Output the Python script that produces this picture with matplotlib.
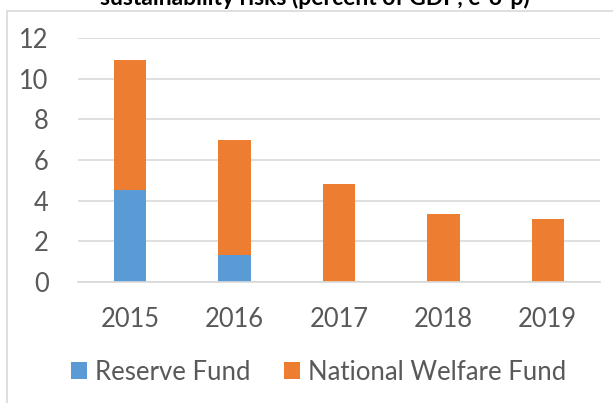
import matplotlib
matplotlib.use("Agg")
import matplotlib.pyplot as plt
from matplotlib.patches import Rectangle
import numpy as np

plt.rcParams['font.family'] = ['Lato', 'DejaVu Sans']

# data (percent of GDP, end of period)
years = ['2015', '2016', '2017', '2018', '2019']
reserve_fund = [4.5, 1.33, 0.0, 0.0, 0.0]
welfare_fund = [6.45, 5.67, 4.81, 3.33, 3.07]
series_names = ['Reserve Fund', 'National Welfare Fund']

blue = '#5b9bd5'
orange = '#ed7d31'
grid_col = '#d9d9d9'
text_col = '#595959'

W, H = 613, 403
fig = plt.figure(figsize=(W / 100, H / 100), dpi=100)

# outer chart frame (only left and top edges visible in the crop)
fig.patches.append(Rectangle((7 / W, -0.1), 1.2, 1 - 11 / H + 0.1,
                             transform=fig.transFigure, fill=False,
                             edgecolor=grid_col, linewidth=1.2))

# title, clipped by the top edge as in the source
fig.text(314.5 / W, 1 - 5 / H, 'sustainability risks (percent of GDP, e-o-p)',
         ha='center', va='baseline', fontsize=16.5, fontweight='bold',
         color='black')

ax = fig.add_axes([78 / W, 1 - 281.7 / H, (600 - 78) / W, (281.7 - 38.3) / H])

x = np.arange(len(years))
width = 0.31
ax.bar(x, reserve_fund, width, color=blue, label=series_names[0])
ax.bar(x, welfare_fund, width, bottom=reserve_fund, color=orange,
       label=series_names[1])

ax.set_xlim(-0.5, len(years) - 0.5)
ax.set_ylim(0, 12)
ax.set_yticks(np.arange(0, 13, 2))
ax.set_xticks(x)
ax.set_xticklabels(years)

ax.yaxis.grid(True, color=grid_col, linewidth=1.2)
ax.set_axisbelow(True)
for side in ['top', 'right', 'left']:
    ax.spines[side].set_visible(False)
ax.spines['bottom'].set_color(grid_col)
ax.spines['bottom'].set_linewidth(1.2)

ax.tick_params(axis='both', length=0, colors=text_col, labelsize=18.4)
ax.tick_params(axis='x', pad=18)
ax.tick_params(axis='y', pad=21)

fig.legend(loc='center', bbox_to_anchor=(319 / W, 1 - 372 / H), ncol=2,
           frameon=False, fontsize=18.5, labelcolor=text_col,
           handlelength=0.62, handleheight=0.62, handletextpad=0.32,
           columnspacing=1.3, borderpad=0, borderaxespad=0)

fig.savefig('out.png', dpi=100)
